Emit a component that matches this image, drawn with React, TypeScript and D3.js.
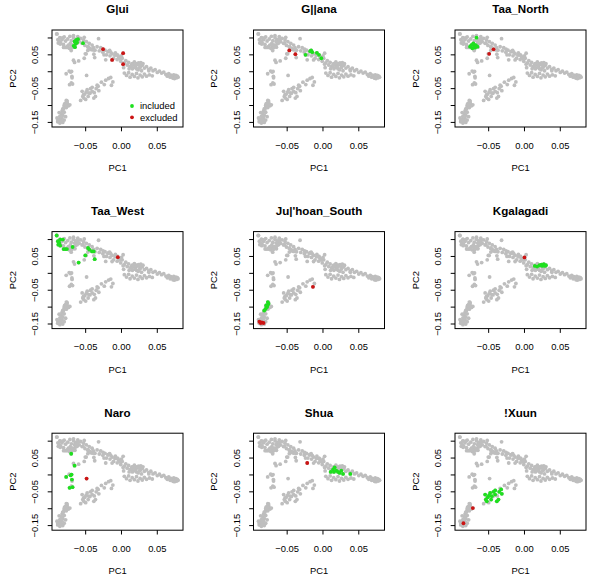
import React from "react";
import * as d3 from "d3";

type Pt = [number, number];

const panelTitles = ["G|ui", "G||ana", "Taa_North", "Taa_West", "Ju|'hoan_South", "Kgalagadi", "Naro", "Shua", "!Xuun"];
const xTicks = [-0.05, 0, 0.05];
const xTickLabels = ["\u22120.05", "0.00", "0.05"];
const yTicks = [-0.15, -0.1, -0.05, 0, 0.05, 0.1];
const yTickLabeled = [-0.15, -0.05, 0.05];
const yTickLabels = ["\u22120.15", "\u22120.05", "0.05"];
const legendLabels = ["included", "excluded"];

const greyBase: Pt[] = [
  // top-left group
  [-0.090, 0.112], [-0.086, 0.101], [-0.083, 0.095], [-0.080, 0.103], [-0.078, 0.091], [-0.075, 0.097], [-0.072, 0.105],
  [-0.070, 0.092], [-0.067, 0.107], [-0.064, 0.096], [-0.061, 0.104], [-0.059, 0.089], [-0.057, 0.099], [-0.055, 0.084],
  [-0.053, 0.094], [-0.051, 0.078], [-0.049, 0.089], [-0.047, 0.073], [-0.045, 0.084], [-0.043, 0.068], [-0.041, 0.079],
  [-0.039, 0.071], [-0.037, 0.064], [-0.032, 0.098], [-0.085, 0.086], [-0.081, 0.081], [-0.062, 0.085], [-0.052, 0.102],
  // main band
  [-0.034, 0.074], [-0.031, 0.062], [-0.029, 0.071], [-0.026, 0.058], [-0.023, 0.064], [-0.021, 0.050], [-0.019, 0.059],
  [-0.016, 0.047], [-0.013, 0.053], [-0.011, 0.040], [-0.009, 0.049], [-0.006, 0.036], [-0.004, 0.044], [-0.001, 0.031],
  [0.001, 0.040], [0.003, 0.012], [0.004, 0.026], [0.006, 0.033], [0.008, 0.020], [0.010, 0.028], [0.012, 0.016],
  [0.015, 0.024], [0.018, 0.029], [0.020, 0.017], [0.023, 0.022], [0.026, 0.014], [0.029, 0.019], [0.032, 0.011],
  [0.035, 0.015], [0.038, 0.007], [0.041, 0.011], [0.044, 0.003], [0.047, 0.006], [0.050, -0.002], [0.053, 0.002],
  [0.056, -0.004], [0.059, -0.001],
  // middle cluster below band
  [0.004, -0.004], [0.007, -0.011], [0.010, -0.003], [0.012, -0.016], [0.015, -0.008], [0.018, -0.014], [0.021, -0.005],
  [0.023, -0.018], [0.026, -0.010], [0.029, -0.015], [0.032, -0.007], [0.035, -0.013], [0.039, -0.009], [0.043, -0.012],
  // right tail
  [0.062, -0.008], [0.064, -0.013], [0.066, -0.006], [0.068, -0.016], [0.069, -0.010], [0.071, -0.014], [0.072, -0.019],
  [0.073, -0.009], [0.075, -0.015], [0.076, -0.011], [0.077, -0.018], [0.078, -0.013], [0.079, -0.016], [0.074, -0.020],
  // scattered left-middle
  [-0.067, 0.034], [-0.052, 0.040], [-0.069, -0.018], [-0.070, -0.033], [-0.073, 0.002],
  // lower branch
  [-0.057, -0.085], [-0.050, -0.082], [-0.044, -0.064], [-0.038, -0.062], [-0.034, -0.040], [-0.028, -0.031],
  [-0.024, -0.038], [-0.022, -0.025], [-0.018, -0.020], [-0.015, -0.017], [-0.012, -0.030], [-0.053, -0.068],
  // bottom-left streak
  [-0.076, -0.086], [-0.078, -0.093], [-0.075, -0.097], [-0.080, -0.100], [-0.077, -0.106], [-0.081, -0.110],
  [-0.083, -0.116], [-0.080, -0.120], [-0.084, -0.124], [-0.082, -0.129], [-0.086, -0.132], [-0.083, -0.137],
  [-0.087, -0.140], [-0.085, -0.145], [-0.089, -0.148], [-0.086, -0.152], [-0.082, -0.150], [-0.080, -0.143],
  [-0.078, -0.133], [-0.087, -0.121], [-0.090, -0.137], [-0.074, -0.101],
];

const includedGui: Pt[] = [[-0.0654, 0.0896], [-0.064, 0.0827], [-0.063, 0.0946], [-0.062, 0.0866], [-0.0668, 0.0767], [-0.0607, 0.0965], [-0.065, 0.0728], [-0.0537, 0.0847]];
const excludedGui: Pt[] = [[-0.0257, 0.0668], [-0.0131, 0.0351], [0.0023, 0.055], [0.0023, 0.0223]];
const includedGana: Pt[] = [[-0.0244, 0.05], [-0.0178, 0.061], [-0.015, 0.058], [-0.0085, 0.056], [-0.0056, 0.05], [-0.0023, 0.04], [-0.0165, 0.063]];
const excludedGana: Pt[] = [[-0.047, 0.063], [-0.0385, 0.052]];
const includedTaaNorth: Pt[] = [[-0.067, 0.101], [-0.076, 0.0743], [-0.0728, 0.0694], [-0.0704, 0.0762], [-0.068, 0.0791], [-0.0742, 0.0791], [-0.0657, 0.0743], [-0.0714, 0.084], [-0.069, 0.0714]];
const excludedTaaNorth: Pt[] = [[-0.0432, 0.0665], [-0.0493, 0.053]];
const includedTaaWest: Pt[] = [[-0.0905, 0.112], [-0.0888, 0.095], [-0.0855, 0.1], [-0.0818, 0.1], [-0.0882, 0.085], [-0.0855, 0.082], [-0.0808, 0.072], [-0.0785, 0.072], [-0.0762, 0.072], [-0.0682, 0.078], [-0.0598, 0.032], [-0.0505, 0.053], [-0.0467, 0.075], [-0.0449, 0.07], [-0.0411, 0.065], [-0.0388, 0.065], [-0.0374, 0.042], [-0.0869, 0.09]];
const excludedTaaWest: Pt[] = [[-0.0051, 0.048]];
const includedJuhoan: Pt[] = [[-0.077, -0.085], [-0.0794, -0.095], [-0.080, -0.105], [-0.078, -0.1], [-0.076, -0.09], [-0.082, -0.11], [-0.0775, -0.095]];
const excludedJuhoan: Pt[] = [[-0.0888, -0.143], [-0.0855, -0.145], [-0.083, -0.147], [-0.087, -0.147], [-0.014, -0.04]];
const includedKgalagadi: Pt[] = [[0.0144, 0.022], [0.021, 0.024], [0.0238, 0.026], [0.027, 0.027], [0.030, 0.024], [0.0177, 0.02], [0.0247, 0.022], [0.0284, 0.022]];
const excludedKgalagadi: Pt[] = [[0.0, 0.047]];
const includedNaro: Pt[] = [[-0.0702, 0.0627], [-0.0655, 0.0275], [-0.0772, -0.0059], [-0.0711, -0.001], [-0.0692, -0.0137], [-0.0725, -0.0382], [-0.0683, -0.0363], [-0.0697, 0.001]];
const excludedNaro: Pt[] = [[-0.0487, -0.0108]];
const includedShua: Pt[] = [[0.0107, 0.0088], [0.014, 0.0157], [0.0163, 0.0225], [0.0186, 0.0127], [0.021, 0.0088], [0.0233, 0.0059], [0.0256, 0.0127], [0.028, 0.003], [0.0382, 0.003], [0.0153, 0.0088]];
const excludedShua: Pt[] = [[-0.022, 0.0353]];
const includedXuun: Pt[] = [[-0.0549, -0.058], [-0.0512, -0.066], [-0.054, -0.073], [-0.0479, -0.053], [-0.0456, -0.063], [-0.0433, -0.05], [-0.0409, -0.058], [-0.0386, -0.078], [-0.0363, -0.073], [-0.0326, -0.043], [-0.0316, -0.056], [-0.0409, -0.046], [-0.0526, -0.078], [-0.0465, -0.073], [-0.0493, -0.06], [-0.0353, -0.05]];
const excludedXuun: Pt[] = [[-0.0721, -0.098], [-0.0852, -0.143]];

const includedSets = [includedGui, includedGana, includedTaaNorth, includedTaaWest, includedJuhoan, includedKgalagadi, includedNaro, includedShua, includedXuun];
const excludedSets = [excludedGui, excludedGana, excludedTaaNorth, excludedTaaWest, excludedJuhoan, excludedKgalagadi, excludedNaro, excludedShua, excludedXuun];

const allPoints: Pt[] = [...greyBase, ...includedSets.flat(), ...excludedSets.flat()];

const W = 592;
const H = 578;
const PITCH_X = 201.5;
const PITCH_Y = 201.6;
const BOX_L = 52;
const BOX_T = 30;
const BOX_W = 131;
const BOX_H = 97;
const GREY = "#BEBEBE";
const GREEN = "#1EE01E";
const RED = "#CC1414";
const FONT = "'Liberation Sans', Arial, Helvetica, sans-serif";
const R = 1.9;

const xDomain: [number, number] = [-0.097, 0.0859];
const yDomain: [number, number] = [-0.1636, 0.1236];

function Panel({ idx }: { idx: number }) {
  const col = idx % 3;
  const row = Math.floor(idx / 3);
  const left = BOX_L + col * PITCH_X;
  const top = BOX_T + row * PITCH_Y;
  const x = d3.scaleLinear().domain(xDomain).range([left, left + BOX_W]);
  const y = d3.scaleLinear().domain(yDomain).range([top + BOX_H, top]);
  const cx = left + BOX_W / 2;
  const cy = top + BOX_H / 2;
  const inc = includedSets[idx];
  const exc = excludedSets[idx];
  return (
    <g>
      <text x={cx} y={9.3 + row * PITCH_Y} dy="0.36em" textAnchor="middle" fontWeight="bold" fontSize={11.6} fontFamily={FONT} fill="#000">
        {panelTitles[idx]}
      </text>
      {allPoints.map((p, i) => (
        <circle key={"g" + i} cx={x(p[0])} cy={y(p[1])} r={R} fill={GREY} />
      ))}
      {inc.map((p, i) => (
        <circle key={"i" + i} cx={x(p[0])} cy={y(p[1])} r={R} fill={GREEN} />
      ))}
      {exc.map((p, i) => (
        <circle key={"e" + i} cx={x(p[0])} cy={y(p[1])} r={R} fill={RED} />
      ))}
      <rect x={left} y={top} width={BOX_W} height={BOX_H} fill="none" stroke="#000" strokeWidth={1} />
      {xTicks.map((t, i) => (
        <g key={"xt" + i}>
          <line x1={x(t)} x2={x(t)} y1={top + BOX_H} y2={top + BOX_H + 4.3} stroke="#000" strokeWidth={1} />
          <text x={x(t)} y={145.5 + row * PITCH_Y} dy="0.35em" textAnchor="middle" fontSize={9.4} fontFamily={FONT} fill="#000">
            {xTickLabels[i]}
          </text>
        </g>
      ))}
      {yTicks.map((t, i) => (
        <line key={"yt" + i} x1={left} x2={left - 4.3} y1={y(t)} y2={y(t)} stroke="#000" strokeWidth={1} />
      ))}
      {yTickLabeled.map((t, i) => (
        <text key={"yl" + i} transform={`translate(${left - 17},${y(t)}) rotate(-90)`} dy="0.35em" textAnchor="middle" fontSize={9.4} fontFamily={FONT} fill="#000">
          {yTickLabels[i]}
        </text>
      ))}
      <text x={cx} y={168 + row * PITCH_Y} dy="0.35em" textAnchor="middle" fontSize={9.4} fontFamily={FONT} fill="#000">
        PC1
      </text>
      <text transform={`translate(${left - 39.5},${cy}) rotate(-90)`} dy="0.35em" textAnchor="middle" fontSize={9.4} fontFamily={FONT} fill="#000">
        PC2
      </text>
      {idx === 0 && (
        <g>
          {legendLabels.map((lab, i) => (
            <g key={"lg" + i}>
              <circle cx={left + 80} cy={top + 76 + i * 11.3} r={R} fill={i === 0 ? GREEN : RED} />
              <text x={left + 88} y={top + 76 + i * 11.3} dy="0.35em" fontSize={9.4} fontFamily={FONT} fill="#000">
                {lab}
              </text>
            </g>
          ))}
        </g>
      )}
    </g>
  );
}

export default function App() {
  return (
    <svg width={W} height={H} style={{ position: "absolute", left: 0, top: 0, background: "#fff" }}>
      <rect x={0} y={0} width={W} height={H} fill="#fff" />
      {panelTitles.map((_, i) => (
        <Panel key={i} idx={i} />
      ))}
    </svg>
  );
}
